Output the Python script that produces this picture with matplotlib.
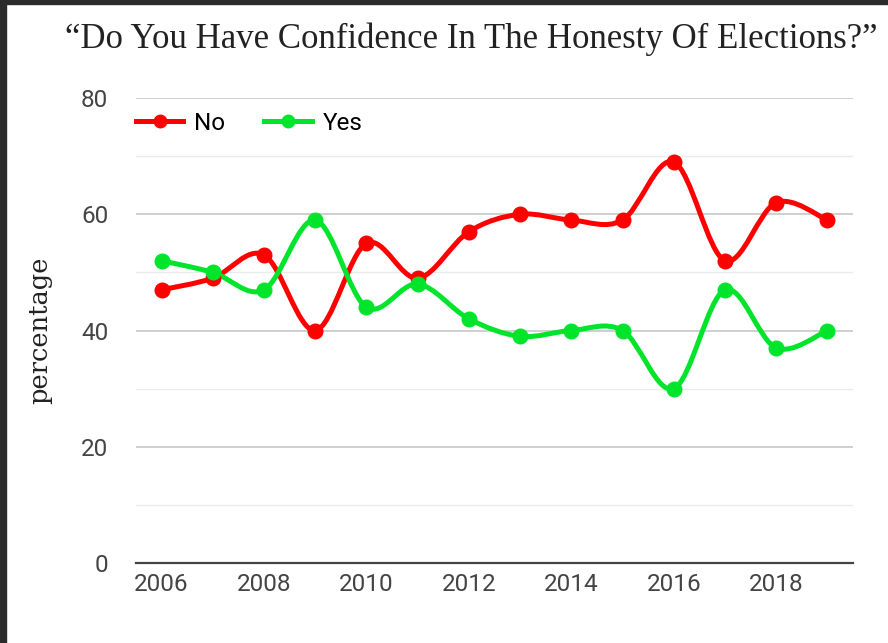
import matplotlib.pyplot as plt
from matplotlib.path import Path
from matplotlib.patches import PathPatch, Rectangle
from matplotlib.lines import Line2D

years = [2006, 2007, 2008, 2009, 2010, 2011, 2012, 2013, 2014, 2015, 2016, 2017, 2018, 2019]
no_vals = [47, 49, 53, 40, 55, 49, 57, 60, 59, 59, 69, 52, 62, 59]
yes_vals = [52, 50, 47, 59, 44, 48, 42, 39, 40, 40, 30, 47, 37, 40]
year_ticks = [2006, 2008, 2010, 2012, 2014, 2016, 2018]
y_ticks = [0, 20, 40, 60, 80]

RED = '#ff0000'
GREEN = '#00e52b'


def smooth_path(xs, ys):
    # cubic bezier through each point (catmull-rom style tangents)
    n = len(xs)
    verts = [(xs[0], ys[0])]
    codes = [Path.MOVETO]
    for i in range(n - 1):
        x0, y0 = xs[max(i - 1, 0)], ys[max(i - 1, 0)]
        x1, y1 = xs[i], ys[i]
        x2, y2 = xs[i + 1], ys[i + 1]
        x3, y3 = xs[min(i + 2, n - 1)], ys[min(i + 2, n - 1)]
        c1 = (x1 + (x2 - x0) / 6, y1 + (y2 - y0) / 6)
        c2 = (x2 - (x3 - x1) / 6, y2 - (y3 - y1) / 6)
        verts += [c1, c2, (x2, y2)]
        codes += [Path.CURVE4] * 3
    return Path(verts, codes)


fig = plt.figure(figsize=(8.88, 6.43), dpi=100)
ax = fig.add_axes([136 / 888, 1 - 563 / 643, (853 - 136) / 888, (563 - 98) / 643])

for vals, col in [(no_vals, RED), (yes_vals, GREEN)]:
    ax.add_patch(PathPatch(smooth_path(years, vals), facecolor='none', edgecolor=col,
                           lw=3.6, capstyle='round', joinstyle='round', zorder=3))
    ax.plot(years, vals, 'o', color=col, ms=10.5, zorder=4)

ax.set_xlim(2005.5, 2019.5)
ax.set_ylim(0, 80)
ax.set_xticks(year_ticks)
ax.set_yticks(y_ticks)
ax.set_yticks([10, 30, 50, 70], minor=True)
ax.grid(True, which='major', axis='y', color='#cccccc', lw=1.3, zorder=0)
ax.grid(True, which='minor', axis='y', color='#ebebeb', lw=1.0, zorder=0)
ax.tick_params(axis='both', which='both', length=0, labelsize=17.5, labelcolor='#444444',
               labelfontfamily='Roboto')
ax.tick_params(axis='y', pad=20)
ax.tick_params(axis='x', pad=7)
for s in ['top', 'right', 'left']:
    ax.spines[s].set_visible(False)
ax.spines['bottom'].set_color('#444444')
ax.spines['bottom'].set_linewidth(1.6)
ax.spines['bottom'].set_zorder(5)

handles = [Line2D([], [], color=RED, lw=3.6, marker='o', ms=9),
           Line2D([], [], color=GREEN, lw=3.6, marker='o', ms=9)]
ax.legend(handles, ['No', 'Yes'], ncol=2, loc='center left', bbox_to_anchor=(0, 0.946),
          frameon=False, borderpad=0, borderaxespad=0, handlelength=1.95,
          handletextpad=0.45, columnspacing=1.6,
          prop={'family': 'Roboto', 'size': 17.5})

fig.text(471 / 888, 1 - 39 / 643, '\u201cDo You Have Confidence In The Honesty Of Elections?\u201d',
         ha='center', va='center', fontsize=25, family='Liberation Serif', color='#222222')
fig.text(40 / 888, 1 - 330 / 643, 'percentage', rotation=90, ha='center', va='center',
         fontsize=18.5, family='DejaVu Serif', color='#222222')

# dark frame on the left and top edges
fig.patches.append(Rectangle((0, 0), 6 / 888, 1, transform=fig.transFigure,
                             color='#2b2b2b', zorder=10))
fig.patches.append(Rectangle((0, 1 - 4 / 643), 1, 4 / 643, transform=fig.transFigure,
                             color='#2b2b2b', zorder=10))

fig.savefig('out.png', dpi=100)
